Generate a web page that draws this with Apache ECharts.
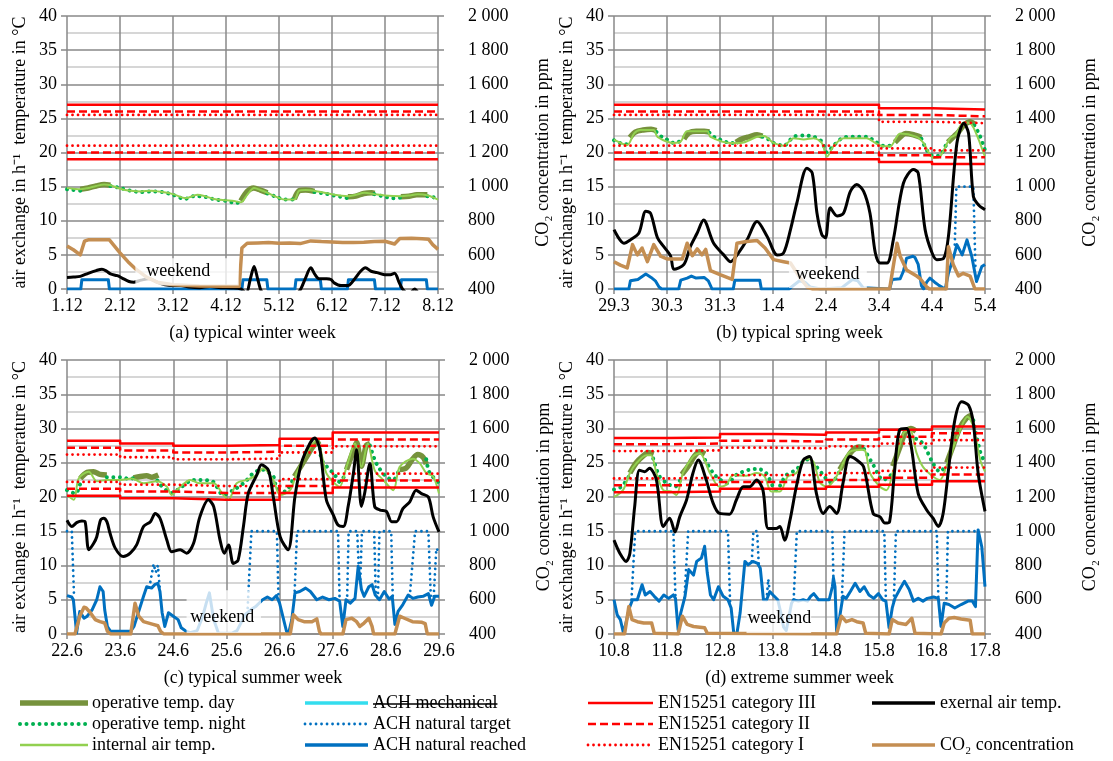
<!DOCTYPE html>
<html>
<head>
<meta charset="utf-8">
<script src="https://cdn.jsdelivr.net/npm/echarts@6/dist/echarts.min.js"></script>
<style>
  html, body { margin: 0; padding: 0; background: #ffffff; }
  #chart { width: 1113px; height: 761px; }
</style>
</head>
<body>
<div id="chart"></div>
<script>
// Time is in days since the first midnight of each week; temperatures and
// air exchange in °C / h-1 (left axis), CO2 in ppm (right axis).

// ---------- (a) typical winter week ----------
const ticksA = ['1.12', '2.12', '3.12', '4.12', '5.12', '6.12', '7.12', '8.12'];
const opDayA = [
  [[0.25, 14.6], [0.4, 14.8], [0.55, 15.1], [0.7, 15.3], [0.82, 15.2]],
  [[3.28, 12.9], [3.4, 14.3], [3.52, 14.8], [3.65, 14.5], [3.78, 14.1]],
  [[4.29, 13.2], [4.38, 14.4], [4.5, 14.5], [4.67, 14.3]],
  [[5.3, 13.5], [5.45, 13.6], [5.6, 14.0], [5.75, 14.1], [5.8, 14.0]],
  [[6.3, 13.5], [6.45, 13.6], [6.6, 13.8], [6.8, 13.8]]
];
const opNightA = [
  [[0, 14.6], [0.12, 14.5], [0.25, 14.4]],
  [[0.82, 15.1], [1.0, 14.8], [1.2, 14.4], [1.4, 14.2], [1.6, 14.3], [1.8, 14.2], [2.0, 13.8], [2.22, 13.2], [2.4, 13.6], [2.6, 13.5], [2.8, 13.1], [3.0, 12.9], [3.2, 12.6], [3.28, 12.8]],
  [[3.78, 14.0], [3.95, 13.5], [4.1, 13.1], [4.29, 13.1]],
  [[4.67, 14.2], [4.85, 14.0], [5.04, 13.7], [5.3, 13.3]],
  [[5.8, 13.9], [6.0, 13.5], [6.15, 13.3], [6.3, 13.4]],
  [[6.8, 13.6], [6.9, 13.5], [7.0, 13.0]]
];
const airA = [[0, 14.8], [0.12, 14.7], [0.25, 14.6], [0.4, 14.8], [0.55, 15.1], [0.7, 15.3], [0.82, 15.2], [1.0, 14.7], [1.2, 14.4], [1.4, 14.3], [1.58, 14.4], [1.8, 14.2], [2.0, 13.9], [2.24, 13.3], [2.46, 13.8], [2.6, 13.6], [2.77, 13.2], [3.0, 13.0], [3.15, 12.9], [3.28, 12.7], [3.4, 13.8], [3.53, 14.8], [3.65, 14.5], [3.78, 14.1], [3.95, 13.5], [4.1, 13.1], [4.29, 13.1], [4.38, 14.4], [4.5, 14.5], [4.73, 14.3], [5.04, 13.8], [5.3, 13.6], [5.45, 13.8], [5.61, 14.1], [5.8, 13.9], [5.99, 13.7], [6.3, 13.6], [6.45, 13.7], [6.62, 13.9], [6.81, 13.7], [7.0, 13.1]];
const achTargetA = [];
const achReachedA = [[0, 0], [0.26, 0], [0.28, 1.35], [0.78, 1.35], [0.8, 0], [3.3, 0], [3.32, 1.35], [3.77, 1.35], [3.79, 0], [4.3, 0], [4.32, 1.35], [4.78, 1.35], [4.8, 0], [5.29, 0], [5.31, 1.35], [5.8, 1.35], [5.82, 0], [6.29, 0], [6.31, 1.35], [6.78, 1.35], [6.8, 0], [7, 0]];
const extA = [[0, 1.7], [0.12, 1.75], [0.25, 1.85], [0.4, 2.3], [0.55, 2.7], [0.66, 2.9], [0.75, 2.6], [0.82, 2.2], [0.95, 1.95], [1.04, 1.6], [1.17, 1.1], [1.26, 1.0], [1.4, 1.3], [1.55, 1.5], [1.7, 1.0], [1.85, 0.6], [2.0, 0.5], [2.15, 0.5], [2.3, 0.3], [2.5, 0.2], [2.7, 0.35], [2.9, 0.2], [3.1, 0.15], [3.28, 0.0], [3.38, -0.6], [3.46, 1.5], [3.53, 3.3], [3.6, 1.4], [3.68, -0.5], [3.9, -1.8], [4.1, -1.8], [4.3, -1.0], [4.41, 0.0], [4.5, 1.6], [4.6, 3.1], [4.68, 2.1], [4.76, 1.5], [4.9, 1.5], [4.98, 1.4], [5.04, 0.9], [5.17, 0.5], [5.3, 0.5], [5.42, 1.4], [5.54, 2.6], [5.63, 3.1], [5.74, 2.6], [5.85, 2.4], [5.99, 2.1], [6.1, 2.1], [6.18, 2.3], [6.27, 0.9], [6.33, 0.0], [6.45, -0.8], [6.56, 0.0], [6.66, -1.0], [6.8, -2.0], [7.0, -2.0]];
const co2A = [[0, 652], [0.12, 630], [0.25, 600], [0.33, 680], [0.4, 688], [0.6, 688], [0.8, 688], [0.9, 650], [1.0, 612], [1.15, 560], [1.3, 516], [1.5, 470], [1.7, 440], [2.0, 425], [2.5, 418], [3.0, 416], [3.25, 416], [3.3, 640], [3.4, 668], [3.6, 670], [3.8, 672], [4.0, 668], [4.2, 670], [4.4, 666], [4.6, 682], [4.8, 678], [5.0, 676], [5.2, 672], [5.4, 672], [5.6, 674], [5.8, 678], [6.0, 680], [6.18, 664], [6.28, 696], [6.5, 698], [6.7, 694], [6.82, 692], [6.9, 660], [7.0, 632]];
const catIIIloA = [19, 19, 19, 19, 19, 19, 19];
const catIIIhiA = [27, 27, 27, 27, 27, 27, 27];
const catIIloA = [20, 20, 20, 20, 20, 20, 20];
const catIIhiA = [26, 26, 26, 26, 26, 26, 26];
const catIloA = [21, 21, 21, 21, 21, 21, 21];
const catIhiA = [25.5, 25.5, 25.5, 25.5, 25.5, 25.5, 25.5];

// ---------- (b) typical spring week ----------
const ticksB = ['29.3', '30.3', '31.3', '1.4', '2.4', '3.4', '4.4', '5.4'];
const opDayB = [
  [[0.3, 22.2], [0.4, 23.0], [0.55, 23.3], [0.7, 23.4], [0.8, 23.2]],
  [[1.32, 22.0], [1.42, 22.9], [1.55, 23.1], [1.7, 23.1], [1.8, 23.0]],
  [[2.3, 21.5], [2.42, 22.0], [2.55, 22.3], [2.7, 22.6], [2.8, 22.4]],
  [[5.3, 21.5], [5.42, 22.4], [5.5, 22.8], [5.65, 22.6], [5.8, 22.2]],
  [[6.3, 21.5], [6.42, 22.4], [6.5, 23.0], [6.6, 24.0], [6.72, 24.5], [6.8, 24.2]]
];
const opNightB = [
  [[0, 21.8], [0.15, 21.3], [0.3, 21.2]],
  [[0.8, 23.0], [0.9, 22.3], [1.0, 21.9], [1.13, 21.4], [1.3, 21.8]],
  [[1.8, 22.9], [1.9, 22.2], [2.0, 21.9], [2.2, 21.4], [2.3, 21.4]],
  [[2.8, 22.3], [2.9, 22.0], [3.01, 21.4], [3.2, 21.0], [3.39, 22.3], [3.58, 22.5], [3.77, 22.3], [3.92, 21.6], [4.02, 20.0], [4.14, 21.0], [4.33, 22.2], [4.5, 22.3], [4.77, 22.3], [4.93, 21.6], [5.08, 21.0], [5.25, 21.0]],
  [[5.8, 22.0], [5.93, 20.0], [6.03, 19.5], [6.15, 19.6], [6.3, 21.8]],
  [[6.8, 24.0], [6.9, 22.5], [7.0, 20.3]]
];
const airB = [[0, 21.9], [0.25, 21.1], [0.38, 22.8], [0.5, 23.3], [0.75, 23.3], [0.82, 22.3], [1.13, 21.4], [1.26, 21.6], [1.38, 23.1], [1.76, 23.1], [1.82, 22.3], [2.2, 21.4], [2.39, 21.4], [2.7, 22.3], [2.83, 22.4], [3.01, 21.4], [3.2, 21.0], [3.39, 22.1], [3.58, 21.9], [3.77, 22.1], [3.92, 21.4], [4.02, 19.4], [4.14, 20.9], [4.33, 22.1], [4.77, 22.1], [4.93, 21.4], [5.08, 20.9], [5.21, 20.9], [5.4, 22.8], [5.71, 22.3], [5.84, 21.4], [5.93, 20.1], [6.03, 19.2], [6.15, 19.4], [6.34, 22.1], [6.44, 22.6], [6.6, 24.4], [6.72, 24.3], [6.88, 21.9], [7.0, 19.4]];
const achTargetB = [
  [[6.43, 6.5], [6.46, 15], [6.78, 15], [6.82, 3.0]]
];
const achReachedB = [[0, 0], [0.28, 0], [0.31, 1.2], [0.45, 1.4], [0.6, 2.2], [0.7, 1.7], [0.78, 1.2], [0.85, 0.3], [0.9, 0], [1.22, 0], [1.26, 1.3], [1.38, 1.6], [1.46, 1.9], [1.55, 1.6], [1.7, 1.7], [1.78, 1.2], [1.85, 0], [2.25, 0], [2.28, 1.3], [2.75, 1.3], [2.78, 0], [3.3, 0], [3.5, 1.2], [3.6, 1.0], [3.7, 0.3], [3.9, 0], [4.3, 0.2], [4.5, 1.4], [4.6, 1.2], [4.7, 0.2], [5.2, 0], [5.25, 1.4], [5.4, 1.5], [5.46, 2.6], [5.52, 4.5], [5.56, 4.6], [5.64, 4.8], [5.68, 4.6], [5.74, 3.6], [5.8, 0.5], [5.84, 0], [5.9, 1.0], [5.96, 1.6], [6.05, 1.0], [6.12, 0.6], [6.2, 0.2], [6.25, 0], [6.31, 2.3], [6.4, 4.5], [6.47, 6.5], [6.57, 5.0], [6.66, 7.2], [6.75, 4.8], [6.84, 1.1], [6.94, 3.3], [7.0, 3.6]];
const extB = [[0, 8.7], [0.19, 6.7], [0.31, 7.2], [0.47, 8.2], [0.6, 11.4], [0.69, 11.1], [0.82, 7.5], [0.94, 6.2], [1.07, 4.8], [1.13, 2.9], [1.32, 3.6], [1.44, 6.2], [1.57, 8.2], [1.69, 10.1], [1.88, 6.7], [2.07, 5.0], [2.2, 4.0], [2.35, 5.3], [2.51, 7.2], [2.7, 9.9], [2.89, 7.7], [3.08, 5.0], [3.2, 5.3], [3.33, 8.7], [3.45, 12.6], [3.64, 17.7], [3.74, 17.0], [3.83, 11.1], [3.92, 8.0], [3.99, 7.5], [4.08, 11.9], [4.21, 10.7], [4.33, 11.1], [4.46, 14.3], [4.58, 15.3], [4.71, 14.3], [4.83, 11.1], [4.93, 5.3], [5.02, 3.8], [5.15, 3.8], [5.27, 7.2], [5.46, 15.5], [5.65, 17.5], [5.74, 17.0], [5.87, 8.7], [6.0, 5.3], [6.09, 4.3], [6.22, 4.5], [6.31, 7.7], [6.47, 21.4], [6.6, 24.3], [6.69, 22.8], [6.78, 13.6], [6.88, 12.3], [7.0, 11.6]];
const co2B = [[0, 560], [0.12, 540], [0.25, 524], [0.35, 660], [0.44, 600], [0.53, 640], [0.63, 560], [0.75, 660], [0.88, 592], [1.0, 576], [1.29, 576], [1.38, 668], [1.48, 595], [1.57, 635], [1.66, 600], [1.73, 632], [1.82, 508], [2.0, 484], [2.23, 456], [2.32, 668], [2.5, 678], [2.7, 684], [2.85, 640], [3.01, 572], [3.2, 560], [3.33, 552], [3.5, 470], [3.65, 410], [3.75, 400], [5.2, 400], [5.34, 668], [5.4, 592], [5.52, 512], [5.71, 476], [5.78, 460], [5.9, 412], [5.95, 400], [6.27, 400], [6.31, 648], [6.4, 544], [6.5, 476], [6.59, 492], [6.72, 476], [6.81, 400], [7, 400]];
const catIIIloB = [19, 19, 19, 19, 19, 18.6, 18.3];
const catIIIhiB = [27, 27, 27, 27, 27, 26.5, 26.3];
const catIIloB = [20, 20, 20, 20, 20, 19.6, 19.3];
const catIIhiB = [26, 26, 26, 26, 26, 25.5, 25.3];
const catIloB = [21, 21, 21, 21, 21, 20.6, 20.3];
const catIhiB = [25.5, 25.5, 25.5, 25.5, 25.5, 24.5, 24.3];

// ---------- (c) typical summer week ----------
const ticksC = ['22.6', '23.6', '24.6', '25.6', '26.6', '27.6', '28.6', '29.6'];
const opDayC = [
  [[0.25, 22.7], [0.38, 23.6], [0.5, 23.7], [0.62, 23.3], [0.75, 23.2]],
  [[1.25, 22.8], [1.38, 23.0], [1.5, 23.1], [1.6, 22.9], [1.72, 23.2]],
  [[4.28, 23.0], [4.4, 24.5], [4.52, 26.0], [4.64, 27.5], [4.76, 28.2]],
  [[5.26, 24.0], [5.4, 27.0], [5.45, 28.0], [5.54, 24.5], [5.63, 27.5], [5.7, 27.8]],
  [[6.26, 24.0], [6.38, 24.2], [6.5, 25.5], [6.6, 26.2], [6.7, 25.8], [6.76, 24.8]]
];
const opNightC = [
  [[0, 21.0], [0.16, 20.5], [0.25, 22.0]],
  [[0.75, 22.9], [1.0, 22.9], [1.2, 22.6], [1.25, 22.8]],
  [[1.7, 22.4], [1.75, 21.8], [1.97, 20.6], [2.16, 21.5], [2.38, 22.5], [2.73, 22.3], [2.94, 20.3], [3.13, 21.0], [3.35, 22.2], [3.48, 23.3], [3.66, 24.0], [3.88, 23.0], [3.94, 21.5], [4.1, 20.8], [4.25, 22.5]],
  [[4.76, 27.0], [4.8, 25.3], [5.04, 23.2], [5.13, 22.2], [5.25, 23.5]],
  [[5.7, 27.5], [5.82, 24.9], [6.0, 23.0], [6.14, 22.5], [6.25, 24.0]],
  [[6.76, 25.5], [6.82, 23.6], [6.98, 22.2]]
];
const airC = [[0, 20.3], [0.13, 19.6], [0.22, 22.7], [0.41, 23.7], [0.56, 22.3], [0.75, 22.5], [1.0, 22.5], [1.22, 22.7], [1.44, 22.0], [1.69, 22.3], [1.88, 21.5], [1.97, 20.3], [2.13, 21.5], [2.32, 22.5], [2.5, 22.0], [2.76, 22.0], [2.94, 20.3], [3.04, 19.6], [3.19, 22.0], [3.38, 22.5], [3.57, 23.2], [3.69, 24.2], [3.88, 22.5], [4.01, 20.3], [4.2, 21.0], [4.32, 23.5], [4.51, 26.4], [4.69, 28.3], [4.88, 23.5], [5.01, 22.2], [5.13, 21.5], [5.26, 24.4], [5.42, 27.8], [5.54, 24.4], [5.66, 27.8], [5.79, 23.9], [5.95, 22.5], [6.14, 21.0], [6.26, 24.4], [6.51, 25.6], [6.64, 24.9], [6.76, 23.5], [6.89, 23.0], [7.0, 20.5]];
const achTargetC = [
  [[0, 15], [0.09, 15], [0.13, 6.0]],
  [[1.55, 6.8], [1.63, 10.2], [1.67, 9.0], [1.71, 10.0], [1.75, 6.2]],
  [[3.4, 3.8], [3.47, 15], [3.95, 15], [3.98, 5.0]],
  [[4.28, 5.5], [4.33, 15], [5.1, 15], [5.13, 4.8]],
  [[5.27, 4.8], [5.3, 15], [5.46, 15], [5.49, 9.5]],
  [[5.52, 8.0], [5.55, 15], [5.78, 15], [5.81, 5.7]],
  [[5.85, 5.2], [5.88, 15], [6.1, 15], [6.13, 5.3]],
  [[6.45, 5.5], [6.55, 15], [6.8, 15], [6.85, 4.5]],
  [[6.9, 5.5], [6.95, 12.5], [7.0, 12.0]]
];
const achReachedC = [[0, 5.6], [0.09, 5.4], [0.12, 5.0], [0.18, 0.15], [0.24, 3.3], [0.32, 2.3], [0.38, 2.6], [0.47, 3.5], [0.56, 5.0], [0.62, 6.9], [0.68, 6.2], [0.71, 3.5], [0.76, 1.1], [0.82, 0.4], [1.2, 0.4], [1.26, 1.1], [1.35, 3.3], [1.44, 5.5], [1.5, 6.9], [1.59, 6.7], [1.65, 7.2], [1.71, 7.4], [1.75, 6.2], [1.79, 3.1], [1.84, 1.1], [1.91, 3.1], [2.0, 2.6], [2.09, 2.1], [2.15, 0.9], [2.24, 0.4], [2.32, 0.2], [2.45, 0.5], [2.55, 2.5], [2.62, 4.5], [2.68, 6.0], [2.76, 2.1], [2.85, 0.1], [3.1, 0.1], [3.2, 0.5], [3.35, 2.8], [3.45, 3.5], [3.55, 4.0], [3.68, 5.0], [3.77, 5.4], [3.86, 5.0], [3.94, 5.6], [4.0, 4.5], [4.06, 2.6], [4.13, 0.4], [4.17, 0.1], [4.23, 2.1], [4.29, 6.0], [4.38, 6.2], [4.49, 6.7], [4.58, 6.2], [4.7, 5.0], [4.81, 5.4], [4.93, 5.0], [5.04, 5.2], [5.13, 4.8], [5.19, 1.1], [5.25, 5.0], [5.33, 4.5], [5.42, 5.2], [5.48, 9.9], [5.54, 6.5], [5.59, 5.5], [5.68, 6.9], [5.74, 7.2], [5.8, 5.7], [5.88, 5.0], [5.97, 6.2], [6.06, 5.1], [6.12, 5.5], [6.17, 1.4], [6.23, 3.3], [6.32, 4.3], [6.42, 5.7], [6.51, 5.2], [6.6, 5.4], [6.7, 5.5], [6.8, 5.9], [6.86, 4.2], [6.92, 5.5], [7.0, 5.5]];
const extC = [[0, 16.6], [0.09, 15.7], [0.19, 16.3], [0.28, 16.5], [0.34, 16.4], [0.41, 12.3], [0.5, 13.2], [0.56, 14.2], [0.63, 16.6], [0.69, 16.9], [0.75, 16.4], [0.81, 14.7], [0.91, 12.5], [1.06, 11.3], [1.19, 11.8], [1.31, 13.0], [1.44, 15.7], [1.57, 16.4], [1.66, 17.6], [1.75, 16.9], [1.88, 13.7], [1.97, 12.0], [2.13, 12.3], [2.25, 11.8], [2.38, 13.2], [2.5, 17.1], [2.66, 19.6], [2.76, 18.6], [2.88, 13.7], [2.96, 11.8], [3.04, 13.0], [3.13, 10.3], [3.22, 10.8], [3.32, 15.7], [3.41, 20.5], [3.57, 23.2], [3.66, 24.7], [3.79, 23.9], [3.88, 20.1], [4.01, 14.2], [4.16, 12.3], [4.29, 20.1], [4.41, 24.9], [4.57, 27.8], [4.66, 28.6], [4.76, 26.9], [4.88, 19.6], [5.01, 17.4], [5.1, 15.9], [5.2, 15.7], [5.29, 18.6], [5.39, 23.5], [5.45, 26.9], [5.54, 18.6], [5.6, 20.5], [5.7, 24.9], [5.79, 18.6], [5.89, 18.1], [6.01, 17.9], [6.11, 16.4], [6.2, 16.4], [6.32, 18.3], [6.45, 19.3], [6.57, 21.0], [6.67, 20.5], [6.8, 20.0], [6.89, 17.1], [7.0, 14.9]];
const co2C = [[0, 400], [0.15, 400], [0.24, 504], [0.32, 556], [0.36, 552], [0.44, 524], [0.53, 484], [0.62, 472], [0.71, 464], [0.76, 416], [0.82, 400], [1.2, 400], [1.28, 580], [1.35, 504], [1.44, 472], [1.62, 456], [1.71, 448], [1.76, 416], [1.82, 400], [4.2, 400], [4.26, 512], [4.35, 484], [4.46, 472], [4.61, 472], [4.7, 488], [4.75, 416], [4.78, 400], [5.19, 400], [5.25, 484], [5.36, 492], [5.45, 472], [5.51, 444], [5.59, 464], [5.68, 492], [5.74, 444], [5.77, 400], [6.17, 400], [6.26, 504], [6.35, 492], [6.5, 472], [6.68, 468], [6.74, 460], [6.78, 400], [7, 400]];
const catIIIloC = [20.2, 19.8, 19.6, 19.6, 20.6, 21.4, 21.4];
const catIIIhiC = [28.2, 27.8, 27.5, 27.6, 28.5, 29.4, 29.4];
const catIIloC = [21.2, 20.8, 20.6, 20.6, 21.6, 22.4, 22.4];
const catIIhiC = [27.2, 26.8, 26.5, 26.6, 27.5, 28.4, 28.4];
const catIloC = [22.2, 21.8, 21.6, 21.6, 22.6, 23.4, 23.4];
const catIhiC = [26.2, 25.8, 25.5, 25.6, 26.5, 27.4, 27.4];

// ---------- (d) extreme summer week ----------
const ticksD = ['10.8', '11.8', '12.8', '13.8', '14.8', '15.8', '16.8', '17.8'];
const opDayD = [
  [[0.3, 23.5], [0.42, 25.0], [0.55, 26.0], [0.65, 26.5], [0.75, 26.3]],
  [[1.28, 23.3], [1.4, 24.5], [1.52, 26.0], [1.62, 26.6], [1.72, 26.3]],
  [[4.26, 24.0], [4.38, 25.5], [4.5, 26.8], [4.62, 27.3], [4.72, 27.2]],
  [[5.26, 24.5], [5.38, 27.0], [5.5, 29.5], [5.6, 30.0], [5.7, 29.6]],
  [[6.28, 25.0], [6.4, 27.5], [6.52, 30.0], [6.65, 31.5], [6.76, 32.0]]
];
const opNightD = [
  [[0, 21.1], [0.14, 21.5], [0.28, 23.0]],
  [[0.74, 25.6], [0.86, 23.0], [1.02, 21.9], [1.15, 21.5], [1.28, 23.0]],
  [[1.72, 25.4], [1.87, 23.5], [1.99, 22.6], [2.15, 22.0], [2.3, 23.2], [2.56, 24.0], [2.72, 24.1], [2.87, 23.5], [3.06, 21.0], [3.25, 23.2], [3.44, 24.0], [3.63, 25.5], [3.82, 24.4], [3.95, 23.2], [4.07, 22.2], [4.16, 22.5], [4.26, 23.8]],
  [[4.72, 27.0], [4.89, 24.7], [5.08, 22.5], [5.2, 23.0], [5.27, 23.8]],
  [[5.7, 28.5], [5.83, 27.8], [6.02, 24.9], [6.15, 23.7], [6.28, 24.8]],
  [[6.78, 31.2], [6.91, 26.6], [7.0, 25.0]]
];
const airD = [[0, 20.0], [0.17, 21.0], [0.3, 23.5], [0.42, 24.9], [0.61, 26.1], [0.7, 26.1], [0.8, 23.5], [0.93, 21.0], [1.08, 20.8], [1.18, 20.3], [1.3, 23.5], [1.49, 25.9], [1.62, 26.4], [1.81, 23.5], [1.99, 21.5], [2.12, 21.8], [2.25, 23.2], [2.5, 23.1], [2.69, 23.5], [2.84, 23.0], [2.97, 20.8], [3.13, 20.8], [3.28, 23.0], [3.44, 23.5], [3.63, 25.6], [3.76, 25.2], [3.88, 22.2], [4.01, 21.5], [4.13, 22.2], [4.26, 23.9], [4.45, 26.6], [4.71, 26.9], [4.83, 23.5], [5.02, 21.5], [5.14, 21.0], [5.27, 23.9], [5.46, 29.3], [5.58, 29.8], [5.71, 26.4], [5.83, 24.4], [6.02, 23.0], [6.15, 22.5], [6.29, 24.9], [6.48, 28.8], [6.67, 31.7], [6.78, 30.3], [6.91, 25.4], [7.0, 23.7]];
const achTargetD = [
  [[0.33, 5.0], [0.4, 15], [1.12, 15], [1.16, 5.2]],
  [[1.33, 5.3], [1.4, 15], [2.15, 15], [2.19, 4.5]],
  [[2.6, 10.6], [2.63, 15], [2.7, 15], [2.73, 10.3]],
  [[2.88, 5.0], [2.91, 8.0], [2.94, 6.2]],
  [[3.39, 5.0], [3.45, 15], [4.12, 15], [4.14, 8.2]],
  [[4.3, 5.3], [4.35, 15], [5.1, 15], [5.13, 4.8]],
  [[5.28, 4.8], [5.32, 15], [6.09, 15], [6.12, 5.2]],
  [[6.27, 4.4], [6.3, 15], [6.87, 15]]
];
const achReachedD = [[0, 5.0], [0.06, 2.8], [0.12, 2.1], [0.18, 0.1], [0.24, 2.1], [0.29, 3.8], [0.35, 5.0], [0.44, 5.0], [0.53, 7.2], [0.59, 5.7], [0.68, 6.2], [0.76, 5.5], [0.85, 4.8], [0.94, 5.7], [1.03, 5.2], [1.12, 5.7], [1.16, 5.2], [1.21, 0.6], [1.26, 3.1], [1.34, 5.5], [1.41, 9.4], [1.5, 8.6], [1.56, 10.6], [1.65, 11.1], [1.71, 12.8], [1.76, 8.9], [1.82, 5.7], [1.88, 5.0], [1.97, 6.9], [2.06, 5.5], [2.15, 5.0], [2.21, 3.8], [2.26, 0.1], [2.32, 0.1], [2.38, 3.1], [2.47, 10.6], [2.53, 10.1], [2.62, 10.6], [2.71, 10.3], [2.76, 9.6], [2.82, 5.0], [2.88, 5.0], [2.94, 6.2], [3.0, 5.7], [3.09, 5.0], [3.15, 3.0], [3.2, 1.0], [3.25, 0.5], [3.3, 2.5], [3.35, 4.5], [3.39, 5.0], [3.48, 4.8], [3.57, 5.0], [3.65, 4.8], [3.71, 5.5], [3.77, 5.9], [3.86, 5.0], [4.06, 5.0], [4.12, 6.9], [4.14, 8.2], [4.17, 6.9], [4.2, 0.4], [4.26, 2.6], [4.32, 5.5], [4.38, 5.2], [4.46, 6.2], [4.55, 7.4], [4.64, 6.2], [4.72, 6.9], [4.81, 5.7], [4.9, 5.2], [4.99, 5.9], [5.07, 5.0], [5.13, 4.8], [5.19, 0.9], [5.25, 3.8], [5.3, 5.2], [5.39, 6.5], [5.48, 7.7], [5.57, 6.5], [5.65, 4.8], [5.74, 5.2], [5.83, 4.8], [5.91, 5.2], [6.03, 5.4], [6.12, 5.2], [6.17, 1.1], [6.23, 4.5], [6.32, 4.3], [6.43, 3.8], [6.55, 4.3], [6.68, 4.8], [6.76, 4.8], [6.82, 4.0], [6.87, 15.2], [6.94, 12.7], [7.0, 6.9]];
const extD = [[0, 13.7], [0.11, 11.8], [0.23, 10.6], [0.3, 11.8], [0.39, 18.6], [0.48, 23.9], [0.58, 23.7], [0.67, 24.2], [0.8, 22.5], [0.93, 15.7], [1.05, 16.9], [1.15, 14.9], [1.24, 17.1], [1.37, 19.6], [1.49, 23.5], [1.59, 25.4], [1.74, 22.5], [1.87, 19.1], [1.99, 17.6], [2.18, 17.5], [2.31, 19.6], [2.44, 21.5], [2.56, 21.5], [2.69, 22.5], [2.81, 21.0], [2.91, 15.4], [3.06, 15.4], [3.13, 15.7], [3.22, 13.7], [3.32, 16.6], [3.44, 21.5], [3.57, 25.4], [3.69, 25.9], [3.82, 20.5], [3.95, 17.6], [4.07, 18.6], [4.2, 17.6], [4.32, 22.0], [4.45, 25.9], [4.58, 25.4], [4.71, 24.4], [4.89, 17.6], [5.02, 17.1], [5.11, 16.2], [5.2, 16.4], [5.29, 23.5], [5.39, 29.8], [5.52, 30.0], [5.61, 27.3], [5.74, 20.5], [5.9, 18.1], [6.02, 16.9], [6.12, 15.7], [6.21, 17.6], [6.31, 23.9], [6.43, 31.2], [6.56, 33.9], [6.69, 33.4], [6.78, 30.8], [6.87, 23.5], [7.0, 17.9]];
const co2D = [[0, 400], [0.2, 400], [0.28, 560], [0.34, 484], [0.44, 472], [0.56, 464], [0.71, 464], [0.76, 404], [1.21, 400], [1.29, 504], [1.38, 456], [1.5, 444], [1.62, 440], [1.71, 436], [1.76, 404], [4.2, 400], [4.29, 504], [4.38, 472], [4.49, 484], [4.58, 472], [4.7, 464], [4.75, 404], [5.19, 400], [5.25, 484], [5.36, 464], [5.51, 456], [5.62, 492], [5.68, 404], [6.17, 400], [6.23, 464], [6.32, 492], [6.42, 496], [6.55, 488], [6.72, 480], [6.76, 400], [7, 400]];
const catIIIloD = [20.7, 20.8, 21.2, 21.2, 21.5, 21.8, 22.3];
const catIIIhiD = [28.6, 28.7, 29.2, 29.1, 29.4, 29.8, 30.3];
const catIIloD = [21.7, 21.8, 22.2, 22.2, 22.5, 22.8, 23.3];
const catIIhiD = [27.7, 27.8, 28.2, 28.1, 28.4, 28.8, 29.3];
const catIloD = [22.7, 22.8, 23.2, 23.2, 23.5, 23.8, 24.3];
const catIhiD = [26.7, 26.8, 27.2, 27.1, 27.4, 27.8, 28.3];

// ---------- drawing ----------
const SERIF = 'Liberation Serif';
const FONT18 = '18px "Liberation Serif"';
const MAJOR = '#888888';
const MINOR = '#c9c9c9';
const COL = {
  opDay: '#76923C', opNight: '#00B050', air: '#92D050', mech: '#33DDEE',
  ach: '#0070C0', red: '#FF0000', ext: '#000000', co2: '#C48E52'
};
const DOTS = [0.01, 6.5];
const FINE_DOTS = [0.01, 5.5];
const DASH = [8, 4];
const TEXT18 = { fontFamily: SERIF, fontSize: 18, color: '#000' };

const panels = [
  { caption: '(a) typical winter week', ticks: ticksA, grid: { left: 67, top: 16, width: 371, height: 273 },
    opDay: opDayA, opNight: opNightA, air: airA, target: achTargetA, reached: achReachedA, ext: extA, co2: co2A,
    cat: [catIIIhiA, catIIIloA, catIIhiA, catIIloA, catIhiA, catIloA] },
  { caption: '(b) typical spring week', ticks: ticksB, grid: { left: 614, top: 16, width: 371, height: 273 },
    opDay: opDayB, opNight: opNightB, air: airB, target: achTargetB, reached: achReachedB, ext: extB, co2: co2B,
    cat: [catIIIhiB, catIIIloB, catIIhiB, catIIloB, catIhiB, catIloB] },
  { caption: '(c) typical summer week', ticks: ticksC, grid: { left: 67, top: 360, width: 372, height: 274 },
    opDay: opDayC, opNight: opNightC, air: airC, target: achTargetC, reached: achReachedC, ext: extC, co2: co2C,
    cat: [catIIIhiC, catIIIloC, catIIhiC, catIIloC, catIhiC, catIloC] },
  { caption: '(d) extreme summer week', ticks: ticksD, grid: { left: 614, top: 360, width: 371, height: 274 },
    opDay: opDayD, opNight: opNightD, air: airD, target: achTargetD, reached: achReachedD, ext: extD, co2: co2D,
    cat: [catIIIhiD, catIIIloD, catIIhiD, catIIloD, catIhiD, catIloD] }
];

// Segments of a series are joined with an empty point so the line breaks between them.
function joinSegments(segs) {
  const out = [];
  segs.forEach((s, i) => {
    if (i > 0) out.push([s[0][0], null]);
    s.forEach(p => out.push(p));
  });
  return out;
}
// Daily comfort limits become a stepped line.
function dailySteps(vals) {
  const out = [];
  vals.forEach((v, i) => { out.push([i, v]); out.push([i + 1, v]); });
  return out;
}
function line(name, data, xi, yi, lineStyle, extra) {
  return Object.assign({
    type: 'line', name, data, xAxisIndex: xi, yAxisIndex: yi,
    symbol: 'none', showSymbol: false, silent: true, connectNulls: false, clip: true,
    lineStyle: Object.assign({ join: 'round' }, lineStyle)
  }, extra || {});
}
function ppmLabel(v) {
  const s = String(v);
  return s.length > 3 ? s.slice(0, s.length - 3) + ' ' + s.slice(-3) : s;
}

const grids = [], xAxes = [], yAxes = [], series = [];
panels.forEach((p, i) => {
  grids.push(Object.assign({ containLabel: false }, p.grid));
  xAxes.push({
    type: 'value', gridIndex: i, min: 0, max: 7, interval: 1,
    name: p.caption, nameLocation: 'middle', nameGap: 35,
    nameTextStyle: TEXT18,
    axisLine: { show: true, lineStyle: { color: MAJOR, width: 1.5 } },
    axisTick: { show: true, length: 5, lineStyle: { color: MAJOR, width: 1.5 } },
    axisLabel: Object.assign({ margin: 8, formatter: v => p.ticks[Math.round(v)] }, TEXT18),
    splitLine: { show: true, lineStyle: { color: MAJOR, width: 1.5 } }
  });
  yAxes.push({
    type: 'value', gridIndex: i, position: 'left', min: 0, max: 40, interval: 5,
    name: 'air exchange in h⁻¹  temperature in °C', nameLocation: 'middle', nameGap: 38, nameRotate: 90,
    nameTextStyle: TEXT18,
    axisLine: { show: false },
    axisTick: { show: true, length: 6, lineStyle: { color: MAJOR, width: 1.5 } },
    axisLabel: Object.assign({ margin: 10 }, TEXT18),
    splitLine: { show: true, lineStyle: { color: MAJOR, width: 1.5 } },
    minorTick: { show: false, splitNumber: 2 },
    minorSplitLine: { show: true, lineStyle: { color: MINOR, width: 1.5 } }
  });
  yAxes.push({
    type: 'value', gridIndex: i, position: 'right', min: 400, max: 2000, interval: 200,
    name: 'CO₂ concentration in ppm', nameLocation: 'middle', nameGap: 96, nameRotate: 90,
    nameTextStyle: TEXT18,
    axisLine: { show: false },
    axisTick: { show: true, length: 6, lineStyle: { color: MAJOR, width: 1.5 } },
    axisLabel: Object.assign({ margin: 30, formatter: ppmLabel }, TEXT18),
    splitLine: { show: false }
  });

  const yT = 2 * i, yC = 2 * i + 1;
  series.push(line('operative temp. day', joinSegments(p.opDay), i, yT, { color: COL.opDay, width: 5.5 }, { smooth: 0.3 }));
  series.push(line('operative temp. night', joinSegments(p.opNight), i, yT, { color: COL.opNight, width: 4, type: DOTS, cap: 'round' }, { smooth: 0.3 }));
  series.push(line('internal air temp.', p.air, i, yT, { color: COL.air, width: 2 }, { smooth: 0.3 }));
  series.push(line('ACH natural target', joinSegments(p.target), i, yT, { color: COL.ach, width: 2.8, type: FINE_DOTS, cap: 'round' }));
  series.push(line('ACH natural reached', p.reached, i, yT, { color: COL.ach, width: 3 }));
  series.push(line('EN15251 category III', dailySteps(p.cat[0]), i, yT, { color: COL.red, width: 2.5 }));
  series.push(line('EN15251 category III', dailySteps(p.cat[1]), i, yT, { color: COL.red, width: 2.5 }));
  series.push(line('EN15251 category II', dailySteps(p.cat[2]), i, yT, { color: COL.red, width: 2.5, type: DASH }));
  series.push(line('EN15251 category II', dailySteps(p.cat[3]), i, yT, { color: COL.red, width: 2.5, type: DASH }));
  series.push(line('EN15251 category I', dailySteps(p.cat[4]), i, yT, { color: COL.red, width: 2.8, type: FINE_DOTS, cap: 'round' }));
  series.push(line('EN15251 category I', dailySteps(p.cat[5]), i, yT, { color: COL.red, width: 2.8, type: FINE_DOTS, cap: 'round' }));
  series.push(line('exernal air temp.', p.ext, i, yT, { color: COL.ext, width: 3 }, { smooth: 0.3 }));
  series.push(line('CO₂ concentration', p.co2, i, yC, { color: COL.co2, width: 3.5 }));
});

const chart = echarts.init(document.getElementById('chart'), null, { renderer: 'canvas' });
chart.setOption({
  animation: false,
  backgroundColor: '#ffffff',
  textStyle: { fontFamily: SERIF },
  grid: grids, xAxis: xAxes, yAxis: yAxes, series
});

// "weekend" notes: translucent boxes placed in each panel's data coordinates
const weekendNotes = [
  { panel: 0, x0: 1.29, x1: 3.24, y0: 0.5, y1: 4.5, tx: 2.1, ty: 2.6 },
  { panel: 1, x0: 3.3, x1: 4.77, y0: 0.15, y1: 4.5, tx: 4.03, ty: 2.1 },
  { panel: 2, x0: 2.25, x1: 3.65, y0: 0.15, y1: 6.4, tx: 2.92, ty: 2.5 },
  { panel: 3, x0: 2.5, x1: 3.72, y0: 0.15, y1: 4.9, tx: 3.12, ty: 2.3 }
];
const graphics = [];
weekendNotes.forEach(n => {
  const finder = { xAxisIndex: n.panel, yAxisIndex: 2 * n.panel };
  const a = chart.convertToPixel(finder, [n.x0, n.y1]);
  const b = chart.convertToPixel(finder, [n.x1, n.y0]);
  const t = chart.convertToPixel(finder, [n.tx, n.ty]);
  graphics.push({ type: 'rect', z: 50, silent: true,
    shape: { x: a[0], y: a[1], width: b[0] - a[0], height: b[1] - a[1] },
    style: { fill: 'rgba(255,255,255,0.78)' } });
  graphics.push({ type: 'text', z: 51, silent: true,
    style: { text: 'weekend', x: t[0], y: t[1], font: FONT18, fill: '#000', align: 'center', verticalAlign: 'middle' } });
});

// Legend drawn below the panels
const legendRows = [703, 724, 745];
const legendCols = [{ x1: 20, x2: 88, tx: 92 }, { x1: 305, x2: 368, tx: 373 }, { x1: 588, x2: 653, tx: 658 }, { x1: 872, x2: 935, tx: 940 }];
const legendEntries = [
  { col: 0, row: 0, text: 'operative temp. day', style: { stroke: COL.opDay, lineWidth: 5.5 } },
  { col: 0, row: 1, text: 'operative temp. night', style: { stroke: COL.opNight, lineWidth: 4, lineDash: DOTS, lineCap: 'round' } },
  { col: 0, row: 2, text: 'internal air temp.', style: { stroke: COL.air, lineWidth: 2.5 } },
  { col: 1, row: 0, text: 'ACH mechanical', style: { stroke: COL.mech, lineWidth: 3.5 }, strike: true },
  { col: 1, row: 1, text: 'ACH natural target', style: { stroke: COL.ach, lineWidth: 2.8, lineDash: FINE_DOTS, lineCap: 'round' } },
  { col: 1, row: 2, text: 'ACH natural reached', style: { stroke: COL.ach, lineWidth: 3.5 } },
  { col: 2, row: 0, text: 'EN15251 category III', style: { stroke: COL.red, lineWidth: 2.5 } },
  { col: 2, row: 1, text: 'EN15251 category II', style: { stroke: COL.red, lineWidth: 2.5, lineDash: DASH } },
  { col: 2, row: 2, text: 'EN15251 category I', style: { stroke: COL.red, lineWidth: 2.8, lineDash: FINE_DOTS, lineCap: 'round' } },
  { col: 3, row: 0, text: 'exernal air temp.', style: { stroke: COL.ext, lineWidth: 3.5 } },
  { col: 3, row: 2, text: 'CO₂ concentration', style: { stroke: COL.co2, lineWidth: 3.5 } }
];
const measureCtx = document.createElement('canvas').getContext('2d');
measureCtx.font = FONT18;
legendEntries.forEach(e => {
  const c = legendCols[e.col], y = legendRows[e.row];
  graphics.push({ type: 'line', silent: true, z: 50,
    shape: { x1: c.x1, y1: y, x2: c.x2, y2: y }, style: Object.assign({ fill: null }, e.style) });
  graphics.push({ type: 'text', silent: true, z: 50,
    style: { text: e.text, x: c.tx, y: y, font: FONT18, fill: '#000', align: 'left', verticalAlign: 'middle' } });
  if (e.strike) {
    const w = measureCtx.measureText(e.text).width;
    graphics.push({ type: 'line', silent: true, z: 51,
      shape: { x1: c.tx, y1: y + 1, x2: c.tx + w, y2: y + 1 }, style: { stroke: '#000', lineWidth: 1.5 } });
  }
});

chart.setOption({ graphic: graphics });
</script>
</body>
</html>
